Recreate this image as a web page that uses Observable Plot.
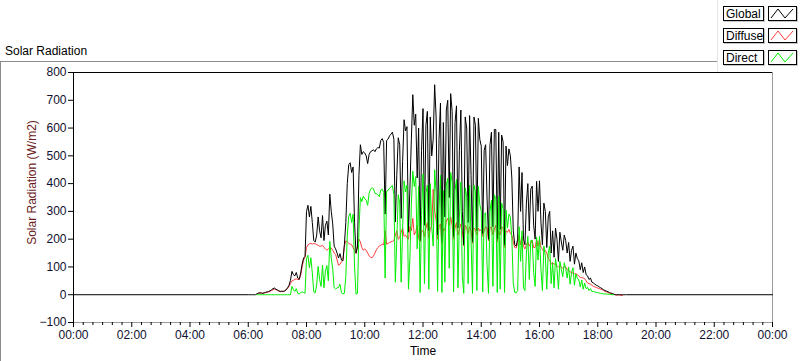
<!DOCTYPE html>
<html><head><meta charset="utf-8">
<script src="https://cdn.jsdelivr.net/npm/d3@7"></script>
<script src="https://cdn.jsdelivr.net/npm/@observablehq/plot@0.6"></script>
<style>
body{margin:0;background:#fff;font-family:"Liberation Sans",Arial,sans-serif;}
#wrap{position:relative;width:800px;height:361px;overflow:hidden;background:#fff;}
#panel{position:absolute;left:0;top:61px;width:830px;height:330px;border-top:1px solid #8c8c8c;border-left:1px solid #8c8c8c;box-sizing:border-box;}
#title{position:absolute;left:5px;top:44px;font-size:12px;color:#000;white-space:nowrap;}
#chart{position:absolute;left:0;top:61px;}
#legend{position:absolute;left:717px;top:0;width:83px;height:72px;background:#fff;border-left:1px solid #e4e4e4;box-sizing:border-box;}
.lab{position:absolute;left:5px;width:41px;height:15px;border:1px solid #000;box-shadow:1px 1px 0 #c8c8c8;background:#fff;font-size:12px;line-height:14px;padding-left:2px;box-sizing:border-box;}
.smp{position:absolute;left:50px;width:29px;height:15px;border:1px solid #000;box-shadow:1px 1px 0 #c8c8c8;background:#fff;box-sizing:border-box;}
.smp svg{position:absolute;left:0;top:0;}
</style></head>
<body>
<div id="wrap">
  <div id="panel"></div>
  <div id="title">Solar Radiation</div>
  <div id="chart"></div>
  <div id="legend"></div>
</div>
<script>
// ---- data (W/m2), 3-minute samples starting 06:00 ----
const startTime = "06:00";
const stepMinutes = 3;
const seriesNames = ["Global", "Diffuse", "Direct"];
const seriesColors = ["#000000", "#ff3c3c", "#00ee00"];

const globalW = [
  0,0,0,0,0,0,3,6,7,6,5,7,9,10,12,14,18,22,24,20,
  17,14,12,13,12,14,18,25,34,52,84,72,68,80,60,55,78,110,132,138,
  300,322,280,318,260,195,190,215,280,230,205,285,195,250,265,215,362,300,255,175,
  165,150,132,148,125,122,180,260,400,468,475,440,460,260,150,172,430,540,505,515,
  510,500,472,505,515,518,522,515,525,530,528,555,562,548,290,555,560,572,578,585,
  560,262,430,565,540,275,480,630,590,605,225,380,560,720,610,650,420,600,195,520,
  670,250,610,660,230,640,500,560,756,640,215,560,690,190,620,280,665,700,350,724,
  660,210,620,680,240,520,665,300,180,640,600,260,645,430,190,640,610,230,635,560,
  535,220,520,540,345,200,540,585,245,595,595,200,585,235,575,550,180,535,465,525,
  500,420,230,180,175,200,460,300,440,200,180,330,400,230,380,391,250,200,408,300,
  410,260,180,330,300,170,280,300,150,230,135,240,200,120,225,190,160,215,195,150,
  188,120,160,175,110,150,130,122,90,115,80,100,72,68,55,60,45,42,38,34,
  32,28,25,22,18,15,13,11,8,6,4,2,0,0,0,0,0,0,0,0
];
const diffuseW = [
  null,null,null,null,null,null,3,5,6,6,5,6,8,9,10,12,15,18,20,18,
  16,13,11,12,11,13,17,23,30,40,50,52,55,57,55,55,70,100,125,135,
  170,180,183,185,182,185,183,180,178,175,175,178,170,165,160,165,170,168,160,150,
  145,125,106,110,118,125,175,194,190,185,182,180,170,160,148,175,200,190,170,160,
  165,160,150,140,135,133,140,150,162,170,175,178,182,180,230,182,185,188,190,192,
  195,215,230,200,205,225,240,210,215,205,200,245,230,275,215,225,250,205,190,230,
  230,210,240,260,205,235,250,380,300,270,200,245,255,180,240,230,265,275,250,280,
  250,200,240,260,215,235,255,230,175,250,240,220,245,230,185,240,235,215,240,230,
  235,210,230,245,240,195,240,245,215,235,250,190,230,215,245,240,170,230,225,235,
  220,215,190,170,168,185,215,180,210,175,165,180,190,175,185,195,170,170,200,175,
  200,170,165,155,160,150,130,125,110,115,110,110,105,100,105,100,95,100,100,90,
  88,82,80,78,76,75,72,68,62,62,60,58,50,42,40,38,34,30,28,26,
  24,22,20,18,15,12,10,8,6,4,3,2,0,-2,0,-1,-2,-3,null,null
];
const directW = [
  null,null,null,null,null,null,0,0,0,0,0,0,0,0,0,0,0,0,0,0,
  0,0,0,0,0,0,0,0,0,0,30,18,12,22,5,2,8,10,8,5,
  130,142,97,133,78,10,7,35,102,55,30,107,25,85,105,50,192,132,95,25,
  20,25,26,38,7,3,5,66,210,283,293,260,290,100,2,5,230,350,335,355,
  345,340,322,365,380,385,382,365,363,360,353,377,380,368,60,373,375,384,388,393,
  360,45,195,360,330,45,235,410,370,395,20,130,325,445,390,425,165,390,8,285,
  435,40,365,395,20,400,245,175,450,365,12,310,430,8,375,45,395,420,95,440,
  405,10,375,415,25,280,405,65,5,385,355,40,395,195,5,395,370,15,390,325,
  300,10,290,295,105,5,300,340,30,360,345,8,355,20,330,310,8,305,240,290,
  280,205,40,8,7,15,245,120,230,25,15,150,210,55,195,196,80,30,208,125,
  210,90,15,175,140,20,150,175,40,115,25,130,95,20,120,90,65,115,95,60,
  100,38,80,97,34,75,58,54,28,53,20,42,22,26,15,22,11,12,10,8,
  8,6,5,4,3,3,2,2,1,1,0,0,null,null,null,null,null,null,null,null
];
// night values of Global (time, W/m2)
const nightTimes = ["00:00", "19:00", "24:00"];
const nightValues = [0, 0, 0];

const yTicks = [-100, 0, 100, 200, 300, 400, 500, 600, 700, 800];
const xTickLabels = ["00:00","02:00","04:00","06:00","08:00","10:00","12:00","14:00","16:00","18:00","20:00","22:00","00:00"];

// ---- build tables ----
const toMin = s => { const [h, m] = s.split(":").map(Number); return h * 60 + m; };
const t0 = toMin(startTime);
const rows = arr => arr.map((v, i) => ({t: t0 + i * stepMinutes, v}));
const night = nightTimes.map((s, i) => ({t: toMin(s), v: nightValues[i]}));
const gData = [night[0], ...rows(globalW), night[1], night[2]];
const dData = rows(diffuseW);
const rData = rows(directW);

const majorTicks = xTickLabels.map((s, i) => i * 120);
const minorTicks = d3.range(0, 1441, 20).filter(m => m % 120 !== 0);
const fmtX = m => xTickLabels[Math.round(m / 120)];

const chart = Plot.plot({
  width: 800, height: 300,
  marginTop: 11, marginBottom: 39, marginLeft: 73, marginRight: 28,
  style: {fontFamily: "'Liberation Sans', Arial, sans-serif", fontSize: "12px", background: "transparent", overflow: "visible"},
  x: {domain: [0, 1440], label: null},
  y: {domain: [-100, 800], label: null},
  marks: [
    Plot.frame({stroke: "#9a9a9a"}),
    Plot.ruleX([0], {stroke: "#000"}),
    Plot.ruleY([800], {stroke: "#000"}),
    Plot.axisY({ticks: yTicks, tickSize: 5, tickPadding: 2, label: null, fill: "#101030"}),
    Plot.axisX({ticks: majorTicks, tickSize: 5, tickPadding: 3, tickFormat: fmtX, label: null, fill: "#101030"}),
    Plot.axisX({ticks: minorTicks, tickSize: 3, tickFormat: () => "", label: null}),
    Plot.line(dData, {x: "t", y: "v", stroke: seriesColors[1], strokeWidth: 1, curve: "linear"}),
    Plot.line(gData, {x: "t", y: "v", stroke: seriesColors[0], strokeWidth: 1, curve: "linear"}),
    Plot.line(rData, {x: "t", y: "v", stroke: seriesColors[2], strokeWidth: 1, curve: "linear"}),
    Plot.text(["Time"], {frameAnchor: "bottom", dy: 32, fill: "#000", fontSize: 12}),
    Plot.text(["Solar Radiation (W/m2)"], {frameAnchor: "left", textAnchor: "middle", dx: -41, dy: -15, rotate: -90, fill: "#6a1a1a", fontSize: 12})
  ]
});
document.getElementById("chart").appendChild(chart);

// ---- legend ----
const leg = document.getElementById("legend");
seriesNames.forEach((name, i) => {
  const top = 6 + i * 22;
  const lab = document.createElement("div");
  lab.className = "lab"; lab.style.top = top + "px"; lab.textContent = name;
  leg.appendChild(lab);
  const smp = document.createElement("div");
  smp.className = "smp"; smp.style.top = top + "px";
  smp.innerHTML = `<svg width="27" height="13"><polyline points="2,11 9,2 16,11 24,2" fill="none" stroke="${seriesColors[i]}" stroke-width="1"/></svg>`;
  leg.appendChild(smp);
});
</script>
</body></html>
